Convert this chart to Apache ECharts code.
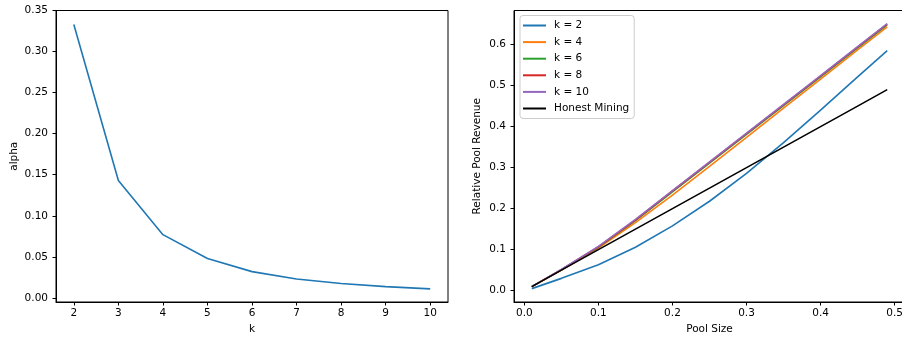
<!DOCTYPE html>
<html>
<head>
<meta charset="utf-8">
<script src="https://cdn.jsdelivr.net/npm/echarts@6/dist/echarts.min.js"></script>
<style>
html,body{margin:0;padding:0;background:#fff;}
#chart{width:902px;height:339px;}
</style>
</head>
<body>
<div id="chart"></div>
<script>
// Left chart data
var kValues = [2, 3, 4, 5, 6, 7, 8, 9, 10];
var alphaValues = [0.333, 0.143, 0.077, 0.048, 0.032, 0.023, 0.0175, 0.0137, 0.011];
var leftYTicks = [0, 0.05, 0.10, 0.15, 0.20, 0.25, 0.30, 0.35];
var leftXTicks = [2, 3, 4, 5, 6, 7, 8, 9, 10];

// Right chart data
var poolSize = [0.01, 0.05, 0.10, 0.15, 0.20, 0.25, 0.30, 0.35, 0.40, 0.45, 0.49];
var revK2 = [0.005, 0.030, 0.063, 0.106, 0.158, 0.218, 0.286, 0.361, 0.440, 0.521, 0.585];
var revK4 = [0.010, 0.050, 0.104, 0.166, 0.233, 0.303, 0.374, 0.445, 0.516, 0.587, 0.643];
var revK6 = [0.010, 0.051, 0.106, 0.171, 0.241, 0.311, 0.381, 0.451, 0.521, 0.592, 0.648];
var revK8 = [0.010, 0.051, 0.107, 0.172, 0.243, 0.313, 0.383, 0.453, 0.523, 0.594, 0.650];
var revK10 = [0.010, 0.052, 0.108, 0.174, 0.244, 0.314, 0.384, 0.454, 0.524, 0.595, 0.651];
var honest = [0.01, 0.05, 0.10, 0.15, 0.20, 0.25, 0.30, 0.35, 0.40, 0.45, 0.49];
var rightXTicks = [0, 0.1, 0.2, 0.3, 0.4, 0.5];
var rightYTicks = [0, 0.1, 0.2, 0.3, 0.4, 0.5, 0.6];
var seriesNames = ['k = 2', 'k = 4', 'k = 6', 'k = 8', 'k = 10', 'Honest Mining'];
var seriesColors = ['#1f77b4', '#ff7f0e', '#2ca02c', '#d62728', '#9467bd', '#000000'];

function pairs(xs, ys) { return xs.map(function (x, i) { return [x, ys[i]]; }); }

var FONT = 'DejaVu Sans';
var FS = 10.5;
var axisLineStyle = { color: '#000', width: 1 };

function valueAxis(opts) {
  var base = {
    type: 'value',
    axisLine: { show: true, onZero: false, lineStyle: axisLineStyle },
    axisTick: { show: true, length: 3.5, lineStyle: axisLineStyle, customValues: opts.ticks },
    axisLabel: { color: '#000', fontFamily: FONT, fontSize: FS, margin: opts.margin, customValues: opts.ticks, formatter: opts.fmt, hideOverlap: false },
    splitLine: { show: false },
    nameLocation: 'middle',
    nameTextStyle: { color: '#000', fontFamily: FONT, fontSize: FS },
  };
  for (var k in opts.extra) base[k] = opts.extra[k];
  return base;
}

var rightData = [revK2, revK4, revK6, revK8, revK10, honest];
var rightSeries = rightData.map(function (d, i) {
  return {
    name: seriesNames[i],
    type: 'line',
    xAxisIndex: 1, yAxisIndex: 1,
    data: pairs(poolSize, d),
    showSymbol: false, symbol: 'none',
    smooth: false,
    lineStyle: { color: seriesColors[i], width: 1.6 },
    itemStyle: { color: seriesColors[i] },
    z: 2 + i,
    animation: false
  };
});

var option = {
  animation: false,
  backgroundColor: '#fff',
  textStyle: { fontFamily: FONT },
  grid: [
    { left: 56, width: 392, top: 10.5, bottom: 37, show: true, borderColor: '#000', borderWidth: 1, containLabel: false, outerBoundsMode: 'none' },
    { left: 514, width: 391, top: 10.5, bottom: 37, show: true, borderColor: '#000', borderWidth: 1, containLabel: false, outerBoundsMode: 'none' }
  ],
  legend: {
    data: seriesNames,
    orient: 'vertical',
    left: 520, top: 15.5,
    icon: 'rect',
    itemWidth: 23, itemHeight: 2,
    itemGap: 2.6,
    padding: [3, 5, 3, 3],
    borderColor: '#cccccc', borderWidth: 1, borderRadius: 3,
    backgroundColor: 'rgba(255,255,255,0.8)',
    textStyle: { color: '#000', fontFamily: FONT, fontSize: FS, lineHeight: 14, padding: [0, 0, 0, 3] }
  },
  xAxis: [
    valueAxis({ ticks: leftXTicks, margin: 6, fmt: function (v) { return String(v); },
      extra: { gridIndex: 0, min: 1.6, max: 10.4, name: 'k', nameGap: 20 } }),
    valueAxis({ ticks: rightXTicks, margin: 6, fmt: function (v) { return v.toFixed(1); },
      extra: { gridIndex: 1, min: -0.014, max: 0.514, name: 'Pool Size', nameGap: 20 } })
  ],
  yAxis: [
    valueAxis({ ticks: leftYTicks, margin: 8, fmt: function (v) { return v.toFixed(2); },
      extra: { gridIndex: 0, min: -0.005, max: 0.35, name: 'alpha', nameGap: 36 } }),
    valueAxis({ ticks: rightYTicks, margin: 8, fmt: function (v) { return v.toFixed(1); },
      extra: { gridIndex: 1, min: -0.0276, max: 0.683, name: 'Relative Pool Revenue', nameGap: 31 } })
  ],
  series: [
    {
      name: 'alpha', type: 'line', xAxisIndex: 0, yAxisIndex: 0,
      data: pairs(kValues, alphaValues),
      showSymbol: false, symbol: 'none',
      lineStyle: { color: '#1f77b4', width: 1.6 },
      itemStyle: { color: '#1f77b4' }
    }
  ].concat(rightSeries)
};

var chart = echarts.init(document.getElementById('chart'), null, { renderer: 'canvas' });
chart.setOption(option);
</script>
</body>
</html>
